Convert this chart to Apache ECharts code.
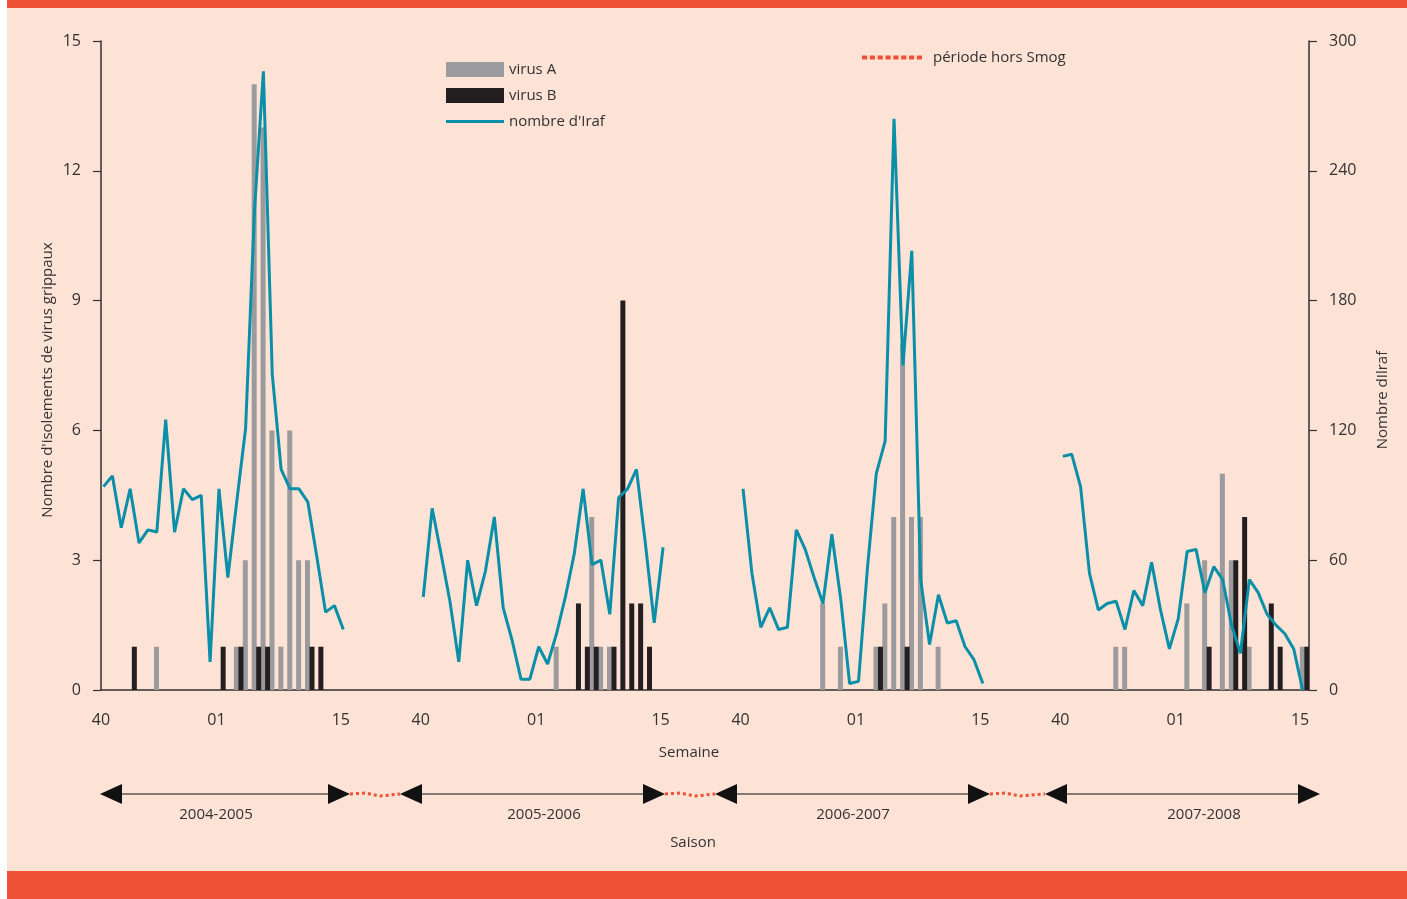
<!DOCTYPE html>
<html>
<head>
<meta charset="utf-8">
<script src="https://cdn.jsdelivr.net/npm/echarts@6/dist/echarts.min.js"></script>
<style>
  html, body { margin: 0; padding: 0; background: #fff; }
  #chart { width: 1407px; height: 899px; }
</style>
</head>
<body>
<div id="chart"></div>
<script>
// semaines d'une saison (40 -> 15)
var weeks = ['40','41','42','43','44','45','46','47','48','49','50','51','52',
             '01','02','03','04','05','06','07','08','09','10','11','12','13','14','15'];
var shownWeeks = ['40', '01', '15'];
var seasons = ['2004-2005', '2005-2006', '2006-2007', '2007-2008'];
var gapWeeks = 8; // période hors Smog, raccourcie

// isolements virus A / B par semaine
var virusA_0405 = [0,0,0,0,0,0,1,0,0,0,0,0,0,0,0,1,3,14,13,6,1,6,3,3,0,0,0,0];
var virusB_0405 = [0,0,0,1,0,0,0,0,0,0,0,0,0,1,0,1,0,1,1,0,0,0,0,1,1,0,0,0];
var virusA_0506 = [0,0,0,0,0,0,0,0,0,0,0,0,0,0,0,1,0,0,0,4,1,1,0,0,0,0,0,0];
var virusB_0506 = [0,0,0,0,0,0,0,0,0,0,0,0,0,0,0,0,0,2,1,1,0,1,9,2,2,1,0,0];
var virusA_0607 = [0,0,0,0,0,0,0,0,0,2,0,1,0,0,0,1,2,4,8,4,4,0,1,0,0,0,0,0];
var virusB_0607 = [0,0,0,0,0,0,0,0,0,0,0,0,0,0,0,1,0,0,1,0,0,0,0,0,0,0,0,0];
var virusA_0708 = [0,0,0,0,0,0,1,1,0,0,0,0,0,0,2,0,3,0,5,3,0,1,0,0,0,0,0,1];
var virusB_0708 = [0,0,0,0,0,0,0,0,0,0,0,0,0,0,0,0,1,0,0,3,4,0,0,2,1,0,0,1];

// nombre d'Iraf par semaine
var iraf_0405 = [94,99,75,93,68,74,73,125,73,93,88,90,13,93,52,87,121,222,286,146,102,93,93,87,62,36,39,28];
var iraf_0506 = [43,84,63,41,13,60,39,55,80,38,23,5,5,20,12,26,43,63,93,58,60,35,89,93,102,68,31,66];
var iraf_0607 = [93,54,29,38,28,29,74,65,52,40,72,42,3,4,56,100,115,264,150,203,51,21,44,31,32,20,14,3];
var iraf_0708 = [108,109,94,54,37,40,41,28,46,39,59,37,19,33,64,65,45,57,51,30,17,51,45,35,30,26,19,0];

var seasonA = [virusA_0405, virusA_0506, virusA_0607, virusA_0708];
var seasonB = [virusB_0405, virusB_0506, virusB_0607, virusB_0708];
var seasonIraf = [iraf_0405, iraf_0506, iraf_0607, iraf_0708];

var cats = [], dataA = [], dataB = [], dataIraf = [];
seasons.forEach(function (s, k) {
  if (k > 0) for (var g = 0; g < gapWeeks; g++) { cats.push(''); dataA.push(null); dataB.push(null); dataIraf.push(null) }
  weeks.forEach(function (w, i) {
    cats.push(w); dataA.push(seasonA[k][i]); dataB.push(seasonB[k][i]); dataIraf.push(seasonIraf[k][i]);
  });
});
var tickCats = cats.concat(['']);
dataIraf.push(null);

var font = '"Open Sans", "DejaVu Sans", sans-serif';
var ink = '#333132';
var red = '#EE5234';
var teal = '#0A8FA8';

// icônes de légende : trait plein et pointillé carré
var lineIcon = 'path://M0 0h58v3h-58z';
var dotIcon = 'path://M0 0h5v4h-5z M7.5 0h5v4h-5z M15 0h5v4h-5z M22.5 0h5v4h-5z M30 0h5v4h-5z M37.5 0h5v4h-5z M45 0h5v4h-5z M52.5 0h5v4h-5z';

var chart = echarts.init(document.getElementById('chart'));

// flèches des saisons (dessin libre sous l'axe)
var arrowY = 794;
var arrows = [[100, 350], [400, 665], [715, 990], [1045, 1320]];
var seasonLabelX = [216, 544, 853, 1204];
var graphics = [
  {type: 'rect', z: -10, shape: {x: 7, y: 0, width: 1400, height: 899}, style: {fill: '#FDE2D6'}},
  {type: 'rect', z: -9, shape: {x: 7, y: 0, width: 1400, height: 8}, style: {fill: red}},
  {type: 'rect', z: -9, shape: {x: 7, y: 871, width: 1400, height: 28}, style: {fill: red}},
  {type: 'text', x: 689, y: 753, style: {text: 'Semaine', font: '15px ' + font, fill: ink, textAlign: 'center', textVerticalAlign: 'middle'}},
  {type: 'text', x: 693, y: 843, style: {text: 'Saison', font: '15px ' + font, fill: ink, textAlign: 'center', textVerticalAlign: 'middle'}},
  {type: 'text', x: 48, y: 380, rotation: Math.PI / 2, style: {text: "Nombre d'isolements de virus grippaux", font: '15px ' + font, fill: ink, textAlign: 'center', textVerticalAlign: 'middle'}},
  {type: 'text', x: 1383, y: 400, rotation: Math.PI / 2, style: {text: 'Nombre dIlraf', font: '15px ' + font, fill: ink, textAlign: 'center', textVerticalAlign: 'middle'}}
];
arrows.forEach(function (a, k) {
  var x0 = a[0], x1 = a[1], h = 10, w = 22;
  graphics.push({type: 'line', shape: {x1: x0 + w, y1: arrowY, x2: x1 - w, y2: arrowY}, style: {stroke: '#111', lineWidth: 1.2}});
  graphics.push({type: 'polygon', shape: {points: [[x0, arrowY], [x0 + w, arrowY - h], [x0 + w, arrowY + h]]}, style: {fill: '#111'}});
  graphics.push({type: 'polygon', shape: {points: [[x1, arrowY], [x1 - w, arrowY - h], [x1 - w, arrowY + h]]}, style: {fill: '#111'}});
  graphics.push({type: 'text', x: seasonLabelX[k], y: 815, style: {text: seasons[k], font: '15px ' + font, fill: ink, textAlign: 'center', textVerticalAlign: 'middle'}});
  if (k < arrows.length - 1) {
    graphics.push({type: 'polyline', shape: {points: [[x1, arrowY], [x1 + 15, arrowY - 1], [x1 + 30, arrowY + 2], [arrows[k + 1][0], arrowY]]},
      style: {stroke: red, lineWidth: 3, lineDash: [3, 3]}});
  }
});

chart.setOption({
  backgroundColor: '#fff',
  animation: false,
  textStyle: {fontFamily: font},
  grid: [
    {left: 101, right: 98, top: 41, bottom: 209},
    {left: 103.5, right: 95.5, top: 41, bottom: 209}
  ],
  legend: [
    {orient: 'vertical', left: 441, top: 57, itemWidth: 58, itemHeight: 15, itemGap: 11,
     data: [{name: 'virus A', icon: 'rect'}, {name: 'virus B', icon: 'rect'}, {name: "nombre d'Iraf", icon: lineIcon}],
     textStyle: {fontSize: 15, color: ink, fontFamily: font}},
    {left: 857, top: 45, itemWidth: 60, itemHeight: 15,
     data: [{name: 'période hors Smog', icon: dotIcon}],
     textStyle: {fontSize: 15, color: ink, fontFamily: font, padding: [0, 0, 0, 6]}}
  ],
  xAxis: [
    {type: 'category', gridIndex: 0, data: cats, boundaryGap: true,
     axisLine: {lineStyle: {color: ink, width: 1.5}},
     axisTick: {interval: 0, length: 7, lineStyle: {color: ink, width: 1.2}},
     axisLabel: {show: false}},
    {type: 'category', gridIndex: 0, data: tickCats, boundaryGap: false, position: 'bottom',
     axisLine: {show: false}, axisTick: {show: false},
     axisLabel: {interval: 0, margin: 22, fontSize: 16, color: ink,
       formatter: function (v) { return shownWeeks.indexOf(v) >= 0 ? v : '' }}},
    {type: 'category', gridIndex: 1, data: tickCats, boundaryGap: false, show: false}
  ],
  yAxis: [
    {type: 'value', gridIndex: 0, min: 0, max: 15, interval: 3, position: 'left',
     axisLine: {show: true, lineStyle: {color: ink, width: 1.5}},
     axisTick: {show: true, length: 8, lineStyle: {color: ink, width: 1.2}},
     axisLabel: {margin: 20, fontSize: 16, color: ink}, splitLine: {show: false}},
    {type: 'value', gridIndex: 0, min: 0, max: 300, interval: 60, position: 'right',
     axisLine: {show: true, lineStyle: {color: ink, width: 1.5}},
     axisTick: {show: true, length: 8, lineStyle: {color: ink, width: 1.2}},
     axisLabel: {margin: 20, fontSize: 16, color: ink}, splitLine: {show: false}},
    {type: 'value', gridIndex: 1, min: 0, max: 300, show: false, splitLine: {show: false}}
  ],
  series: [
    {name: 'virus A', type: 'bar', xAxisIndex: 0, yAxisIndex: 0, data: dataA,
     barWidth: 5, barGap: '-10%', itemStyle: {color: '#9B9B9D'}},
    {name: 'virus B', type: 'bar', xAxisIndex: 0, yAxisIndex: 0, data: dataB,
     barWidth: 5, barGap: '-10%', itemStyle: {color: '#231F20'}},
    {name: "nombre d'Iraf", type: 'line', xAxisIndex: 2, yAxisIndex: 2, data: dataIraf,
     symbol: 'none', connectNulls: false, z: 5,
     lineStyle: {color: teal, width: 3}, itemStyle: {color: teal}},
    {name: 'période hors Smog', type: 'line', xAxisIndex: 2, yAxisIndex: 2, data: [],
     symbol: 'none', lineStyle: {color: red, width: 4, type: [4, 4]}, itemStyle: {color: red}}
  ],
  graphic: graphics
});
</script>
</body>
</html>
